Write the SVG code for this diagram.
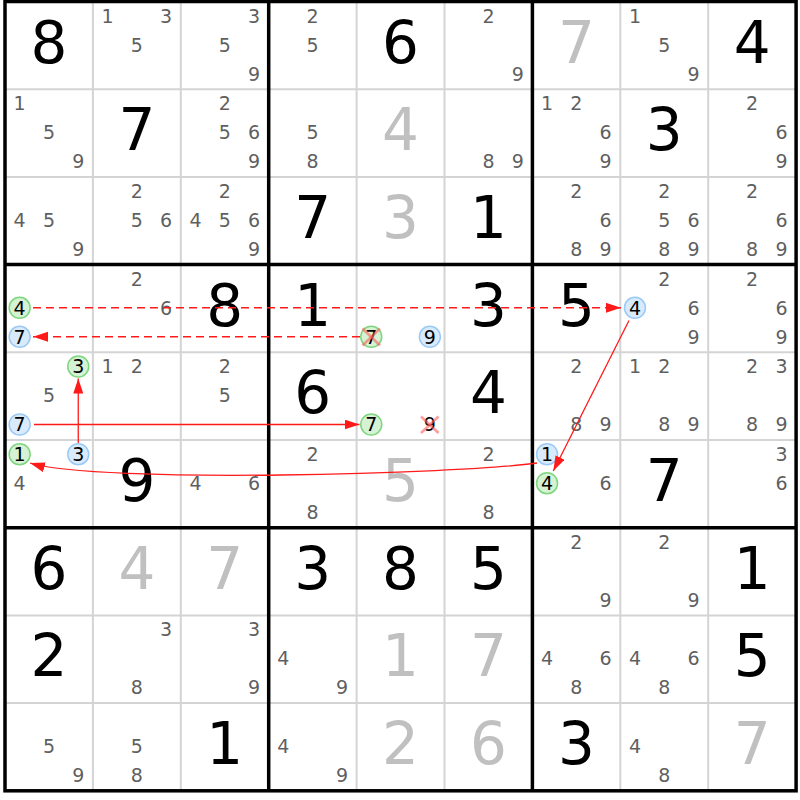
<svg xmlns="http://www.w3.org/2000/svg" width="800" height="800" viewBox="0 0 800 800">
<defs>
<style>
text{font-family:"DejaVu Sans","Verdana",sans-serif;text-anchor:middle}
.g{font-size:58px;fill:#000}
.s{font-size:58px;fill:#c0c0c0}
.c{font-size:19px;fill:#5f5f5f}
.k{font-size:19px;fill:#000}
.thin{stroke:#d4d4d4;stroke-width:2}
.thick{stroke:#000;stroke-width:3.5}
.gr{fill:#d5f2d5;stroke:#7fd67f;stroke-width:1.5}
.bl{fill:#d9eafb;stroke:#9ccaf6;stroke-width:1.5}
.ln{fill:none;stroke:#ff1a1a;stroke-width:1.3}
.ds{fill:none;stroke:#ff1a1a;stroke-width:1.6;stroke-dasharray:8 5}
.x{stroke:#ff5a5a;stroke-opacity:0.6;stroke-width:2.5}
</style>
<marker id="ah" markerUnits="userSpaceOnUse" markerWidth="16" markerHeight="11" refX="15" refY="5" orient="auto"><path d="M0,0 L15,5 L0,10 z" fill="#ff1a1a"/></marker>
</defs>
<rect width="800" height="800" fill="#fff"/>
<g id="grid">
<line class="thin" x1="92.9" y1="1.5" x2="92.9" y2="790.8"/>
<line class="thin" x1="180.8" y1="1.5" x2="180.8" y2="790.8"/>
<line class="thin" x1="356.6" y1="1.5" x2="356.6" y2="790.8"/>
<line class="thin" x1="444.5" y1="1.5" x2="444.5" y2="790.8"/>
<line class="thin" x1="620.3" y1="1.5" x2="620.3" y2="790.8"/>
<line class="thin" x1="708.2" y1="1.5" x2="708.2" y2="790.8"/>
<line class="thin" x1="5" y1="89.2" x2="796.1" y2="89.2"/>
<line class="thin" x1="5" y1="176.9" x2="796.1" y2="176.9"/>
<line class="thin" x1="5" y1="352.3" x2="796.1" y2="352.3"/>
<line class="thin" x1="5" y1="440" x2="796.1" y2="440"/>
<line class="thin" x1="5" y1="615.4" x2="796.1" y2="615.4"/>
<line class="thin" x1="5" y1="703.1" x2="796.1" y2="703.1"/>
<line class="thick" x1="268.7" y1="1.5" x2="268.7" y2="790.8"/>
<line class="thick" x1="532.4" y1="1.5" x2="532.4" y2="790.8"/>
<line class="thick" x1="5" y1="264.6" x2="796.1" y2="264.6"/>
<line class="thick" x1="5" y1="527.7" x2="796.1" y2="527.7"/>
<rect class="thick" x="5" y="1.5" width="791.1" height="789.3" fill="none"/>
</g>
<g id="givens">
<text class="g" x="48.95" y="62.5">8</text><text class="g" x="400.55" y="62.5">6</text><text class="s" x="576.35" y="62.5">7</text><text class="g" x="752.15" y="62.5">4</text>
<text class="g" x="136.85" y="150.2">7</text><text class="s" x="400.55" y="150.2">4</text><text class="g" x="664.25" y="150.2">3</text>
<text class="g" x="312.65" y="237.9">7</text><text class="s" x="400.55" y="237.9">3</text><text class="g" x="488.45" y="237.9">1</text>
<text class="g" x="224.75" y="325.6">8</text><text class="g" x="312.65" y="325.6">1</text><text class="g" x="488.45" y="325.6">3</text><text class="g" x="576.35" y="325.6">5</text>
<text class="g" x="312.65" y="413.3">6</text><text class="g" x="488.45" y="413.3">4</text>
<text class="g" x="136.85" y="501">9</text><text class="s" x="400.55" y="501">5</text><text class="g" x="664.25" y="501">7</text>
<text class="g" x="48.95" y="588.7">6</text><text class="s" x="136.85" y="588.7">4</text><text class="s" x="224.75" y="588.7">7</text><text class="g" x="312.65" y="588.7">3</text><text class="g" x="400.55" y="588.7">8</text><text class="g" x="488.45" y="588.7">5</text><text class="g" x="752.15" y="588.7">1</text>
<text class="g" x="48.95" y="676.4">2</text><text class="s" x="400.55" y="676.4">1</text><text class="s" x="488.45" y="676.4">7</text><text class="g" x="752.15" y="676.4">5</text>
<text class="g" x="224.75" y="764.1">1</text><text class="s" x="400.55" y="764.1">2</text><text class="s" x="488.45" y="764.1">6</text><text class="g" x="576.35" y="764.1">3</text><text class="s" x="752.15" y="764.1">7</text>
</g>
<g id="candidates">
<text class="c" x="107.55" y="22.5">1</text><text class="c" x="166.15" y="22.5">3</text><text class="c" x="136.85" y="51.5">5</text>
<text class="c" x="254.05" y="22.5">3</text><text class="c" x="224.75" y="51.5">5</text><text class="c" x="254.05" y="80.5">9</text>
<text class="c" x="312.65" y="22.5">2</text><text class="c" x="312.65" y="51.5">5</text>
<text class="c" x="488.45" y="22.5">2</text><text class="c" x="517.75" y="80.5">9</text>
<text class="c" x="634.95" y="22.5">1</text><text class="c" x="664.25" y="51.5">5</text><text class="c" x="693.55" y="80.5">9</text>
<text class="c" x="19.65" y="110.2">1</text><text class="c" x="48.95" y="139.2">5</text><text class="c" x="78.25" y="168.2">9</text>
<text class="c" x="224.75" y="110.2">2</text><text class="c" x="224.75" y="139.2">5</text><text class="c" x="254.05" y="139.2">6</text><text class="c" x="254.05" y="168.2">9</text>
<text class="c" x="312.65" y="139.2">5</text><text class="c" x="312.65" y="168.2">8</text>
<text class="c" x="488.45" y="168.2">8</text><text class="c" x="517.75" y="168.2">9</text>
<text class="c" x="547.05" y="110.2">1</text><text class="c" x="576.35" y="110.2">2</text><text class="c" x="605.65" y="139.2">6</text><text class="c" x="605.65" y="168.2">9</text>
<text class="c" x="752.15" y="110.2">2</text><text class="c" x="781.45" y="139.2">6</text><text class="c" x="781.45" y="168.2">9</text>
<text class="c" x="19.65" y="226.9">4</text><text class="c" x="48.95" y="226.9">5</text><text class="c" x="78.25" y="255.9">9</text>
<text class="c" x="136.85" y="197.9">2</text><text class="c" x="136.85" y="226.9">5</text><text class="c" x="166.15" y="226.9">6</text>
<text class="c" x="224.75" y="197.9">2</text><text class="c" x="195.45" y="226.9">4</text><text class="c" x="224.75" y="226.9">5</text><text class="c" x="254.05" y="226.9">6</text><text class="c" x="254.05" y="255.9">9</text>
<text class="c" x="576.35" y="197.9">2</text><text class="c" x="605.65" y="226.9">6</text><text class="c" x="576.35" y="255.9">8</text><text class="c" x="605.65" y="255.9">9</text>
<text class="c" x="664.25" y="197.9">2</text><text class="c" x="664.25" y="226.9">5</text><text class="c" x="693.55" y="226.9">6</text><text class="c" x="664.25" y="255.9">8</text><text class="c" x="693.55" y="255.9">9</text>
<text class="c" x="752.15" y="197.9">2</text><text class="c" x="781.45" y="226.9">6</text><text class="c" x="752.15" y="255.9">8</text><text class="c" x="781.45" y="255.9">9</text>
<text class="c" x="136.85" y="285.6">2</text><text class="c" x="166.15" y="314.6">6</text>
<text class="c" x="664.25" y="285.6">2</text><text class="c" x="693.55" y="314.6">6</text><text class="c" x="693.55" y="343.6">9</text>
<text class="c" x="752.15" y="285.6">2</text><text class="c" x="781.45" y="314.6">6</text><text class="c" x="781.45" y="343.6">9</text>
<text class="c" x="48.95" y="402.3">5</text>
<text class="c" x="107.55" y="373.3">1</text><text class="c" x="136.85" y="373.3">2</text>
<text class="c" x="224.75" y="373.3">2</text><text class="c" x="224.75" y="402.3">5</text>
<text class="c" x="576.35" y="373.3">2</text><text class="c" x="576.35" y="431.3">8</text><text class="c" x="605.65" y="431.3">9</text>
<text class="c" x="634.95" y="373.3">1</text><text class="c" x="664.25" y="373.3">2</text><text class="c" x="664.25" y="431.3">8</text><text class="c" x="693.55" y="431.3">9</text>
<text class="c" x="752.15" y="373.3">2</text><text class="c" x="781.45" y="373.3">3</text><text class="c" x="752.15" y="431.3">8</text><text class="c" x="781.45" y="431.3">9</text>
<text class="c" x="19.65" y="490">4</text>
<text class="c" x="195.45" y="490">4</text><text class="c" x="254.05" y="490">6</text>
<text class="c" x="312.65" y="461">2</text><text class="c" x="312.65" y="519">8</text>
<text class="c" x="488.45" y="461">2</text><text class="c" x="488.45" y="519">8</text>
<text class="c" x="605.65" y="490">6</text>
<text class="c" x="781.45" y="461">3</text><text class="c" x="781.45" y="490">6</text>
<text class="c" x="576.35" y="548.7">2</text><text class="c" x="605.65" y="606.7">9</text>
<text class="c" x="664.25" y="548.7">2</text><text class="c" x="693.55" y="606.7">9</text>
<text class="c" x="166.15" y="636.4">3</text><text class="c" x="136.85" y="694.4">8</text>
<text class="c" x="254.05" y="636.4">3</text><text class="c" x="254.05" y="694.4">9</text>
<text class="c" x="283.35" y="665.4">4</text><text class="c" x="341.95" y="694.4">9</text>
<text class="c" x="547.05" y="665.4">4</text><text class="c" x="605.65" y="665.4">6</text><text class="c" x="576.35" y="694.4">8</text>
<text class="c" x="634.95" y="665.4">4</text><text class="c" x="693.55" y="665.4">6</text><text class="c" x="664.25" y="694.4">8</text>
<text class="c" x="48.95" y="753.1">5</text><text class="c" x="78.25" y="782.1">9</text>
<text class="c" x="136.85" y="753.1">5</text><text class="c" x="136.85" y="782.1">8</text>
<text class="c" x="283.35" y="753.1">4</text><text class="c" x="341.95" y="782.1">9</text>
<text class="c" x="634.95" y="753.1">4</text><text class="c" x="664.25" y="782.1">8</text>
</g>
<g id="r3c0-4"><circle class="gr" cx="19.65" cy="307.8" r="10.5"/><text class="k" x="19.65" y="314.6">4</text></g>
<g id="r3c0-7"><circle class="bl" cx="19.65" cy="336.8" r="10.5"/><text class="k" x="19.65" y="343.6">7</text></g>
<g id="r3c4-7"><circle class="gr" cx="371.25" cy="336.8" r="10.5"/><text class="k" x="371.25" y="343.6">7</text><line class="x" x1="362.5" y1="328.5" x2="380" y2="345.5"/><line class="x" x1="380" y1="328.5" x2="362.5" y2="345.5"/></g>
<g id="r3c4-9"><circle class="bl" cx="429.85" cy="336.8" r="10.5"/><text class="k" x="429.85" y="343.6">9</text></g>
<g id="r3c7-4"><circle class="bl" cx="634.95" cy="307.8" r="10.5"/><text class="k" x="634.95" y="314.6">4</text></g>
<g id="r4c0-3"><circle class="gr" cx="78.25" cy="366.5" r="10.5"/><text class="k" x="78.25" y="373.3">3</text></g>
<g id="r4c0-7"><circle class="bl" cx="19.65" cy="424.5" r="10.5"/><text class="k" x="19.65" y="431.3">7</text></g>
<g id="r4c4-7"><circle class="gr" cx="371.25" cy="424.5" r="10.5"/><text class="k" x="371.25" y="431.3">7</text></g>
<g id="r4c4-9"><text class="k" x="429.85" y="431.3">9</text><line class="x" x1="421" y1="416.5" x2="438.5" y2="433"/><line class="x" x1="438.5" y1="416.5" x2="421" y2="433"/></g>
<g id="r5c0-1"><circle class="gr" cx="19.65" cy="454.2" r="10.5"/><text class="k" x="19.65" y="461">1</text></g>
<g id="r5c0-3"><circle class="bl" cx="78.25" cy="454.2" r="10.5"/><text class="k" x="78.25" y="461">3</text></g>
<g id="r5c6-1"><circle class="bl" cx="547.05" cy="454.2" r="10.5"/><text class="k" x="547.05" y="461">1</text></g>
<g id="r5c6-4"><circle class="gr" cx="547.05" cy="483.2" r="10.5"/><text class="k" x="547.05" y="490">4</text></g>
<g id="links">
<path class="ds" d="M33,307.8 L621,307.8" marker-end="url(#ah)"/>
<path class="ds" d="M360,336.8 L33,336.8" marker-end="url(#ah)"/>
<path class="ln" d="M78.25,443 L78.25,378.5" marker-end="url(#ah)"/>
<path class="ln" d="M34,424.5 L359.5,424.5" marker-end="url(#ah)"/>
<path class="ln" d="M629,320.5 L553.3,471" marker-end="url(#ah)"/>
<path class="ln" d="M537,463 C460,474 100,484 30,463" marker-end="url(#ah)"/>
</g>
</svg>
